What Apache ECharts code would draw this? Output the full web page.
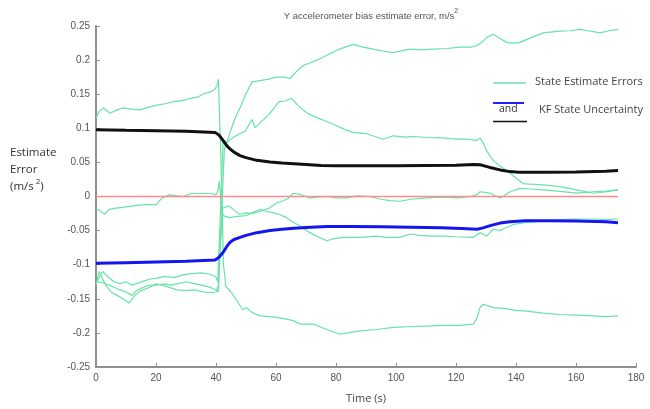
<!DOCTYPE html>
<html><head><meta charset="utf-8">
<script src="https://cdn.jsdelivr.net/npm/echarts@6/dist/echarts.min.js"></script>
<style>html,body{margin:0;padding:0;background:#fff}#c{width:650px;height:409px}</style>
</head><body><div id="c"></div>
<script>
// Time (s) / value pairs
const errA = [[0,0.115],[1,0.124],[2.4,0.13],[4.7,0.122],[7,0.127],[9.2,0.13],[12,0.128],[14.8,0.127],[17.5,0.131],[20.4,0.134],[23,0.136],[26,0.139],[29,0.141],[31.6,0.144],[34,0.146],[36,0.151],[38,0.153],[39.5,0.157],[40.3,0.162],[40.8,0.172],[41.6,0.06],[42.5,-0.10],[43.3,-0.132],[45,-0.14],[46.7,-0.151],[48.9,-0.166],[50.2,-0.163],[52,-0.170],[54.7,-0.175],[58,-0.176],[61.3,-0.178],[65.8,-0.182],[68,-0.187],[72.4,-0.187],[76.9,-0.195],[81.3,-0.202],[84,-0.200],[88,-0.197],[93.5,-0.195],[99.1,-0.192],[104,-0.191],[110.2,-0.190],[116,-0.189],[121.3,-0.189],[125.8,-0.187],[127,-0.178],[128,-0.163],[129.1,-0.158],[132.4,-0.163],[136,-0.164],[140,-0.167],[143.6,-0.168],[149,-0.171],[154.7,-0.173],[160,-0.174],[165.8,-0.175],[170,-0.176],[174,-0.175]];
const errB = [[0,-0.127],[1.5,-0.115],[2.2,-0.110],[4,-0.118],[6,-0.125],[8,-0.128],[10,-0.125],[12,-0.13],[14,-0.127],[16,-0.124],[18,-0.121],[20,-0.120],[23,-0.117],[26,-0.119],[29,-0.115],[32,-0.113],[35,-0.112],[38,-0.114],[40,-0.118],[40.6,-0.125],[41.5,-0.02],[42.4,0.082],[43.6,0.079],[45,0.098],[46.4,0.115],[48,0.13],[49.8,0.149],[52,0.168],[54.7,0.170],[57.6,0.172],[60,0.175],[63,0.175],[64.7,0.173],[66.5,0.182],[69.1,0.192],[72,0.197],[74.7,0.202],[77,0.207],[80.2,0.214],[83,0.219],[85.8,0.223],[89,0.219],[92.4,0.216],[96,0.213],[99.1,0.211],[102,0.214],[104.7,0.216],[108,0.215],[112.4,0.216],[117,0.217],[121.3,0.219],[125,0.219],[126.9,0.221],[128.6,0.226],[130.5,0.234],[132.4,0.238],[134.5,0.232],[136.9,0.226],[139,0.225],[141.3,0.226],[145,0.233],[149.1,0.240],[154.7,0.2425],[158,0.243],[161.3,0.245],[164,0.243],[168,0.240],[171,0.243],[174,0.245]];
const errC = [[0,-0.125],[2,-0.126],[3,-0.128],[5,-0.131],[6,-0.133],[8,-0.137],[10,-0.14],[12,-0.145],[13.5,-0.138],[15,-0.135],[17,-0.131],[20,-0.130],[23,-0.128],[25,-0.130],[28,-0.127],[30,-0.125],[33,-0.128],[35,-0.130],[38,-0.133],[40,-0.137],[40.8,-0.14],[41.8,-0.03],[42.8,0.07],[43.6,0.079],[45.5,0.086],[47.4,0.091],[49.8,0.096],[52,0.113],[53,0.101],[54.7,0.108],[57.6,0.12],[59.1,0.128],[61,0.139],[63,0.140],[65.2,0.144],[67,0.135],[69,0.127],[71.3,0.12],[74,0.115],[76.9,0.11],[80,0.104],[83,0.098],[85.8,0.094],[88,0.093],[90.2,0.092],[93,0.088],[95.8,0.084],[99.1,0.089],[103,0.087],[106,0.088],[110.2,0.0865],[115,0.086],[118,0.085],[121.3,0.084],[124,0.084],[126.9,0.082],[128,0.086],[129,0.079],[130.2,0.067],[132.4,0.053],[134.5,0.045],[136.9,0.038],[139.5,0.029],[142.4,0.019],[145,0.018],[149.1,0.017],[154.7,0.0144],[160.2,0.0097],[165.8,0.0048],[170.2,0.007],[174,0.0097]];
const errD = [[0,-0.13],[1,-0.11],[3,-0.128],[5,-0.14],[7,-0.145],[9,-0.150],[11,-0.156],[13,-0.145],[15,-0.138],[18,-0.133],[20,-0.128],[22,-0.13],[25,-0.134],[27,-0.137],[30,-0.138],[33,-0.137],[36,-0.14],[38,-0.141],[40,-0.140],[40.8,-0.13],[41.6,-0.06],[42.2,-0.017],[44.4,-0.014],[46,-0.02],[47.8,-0.026],[50,-0.024],[52,-0.025],[54.7,-0.0216],[57.8,-0.017],[60.2,-0.0096],[62,-0.007],[64,-0.003],[65.8,0.0048],[68,0.003],[71.3,-0.0024],[74,-0.001],[76.9,0],[80,-0.002],[83.6,-0.002],[87,0.001],[91.3,0],[95,-0.004],[98,-0.006],[101.3,-0.007],[105,-0.004],[110.2,-0.002],[115,-0.001],[121.3,-0.002],[125,0],[127,0.003],[128,0.007],[131.3,0.005],[133,0.001],[134.7,-0.002],[136,0.001],[138,0.007],[141.3,0.012],[145,0.011],[149.1,0.0097],[154,0.008],[160.2,0.005],[165.8,0.007],[170,0.008],[174,0.0097]];
const errE = [[0,-0.017],[1,-0.02],[2.8,-0.026],[4.4,-0.019],[6.7,-0.017],[9,-0.016],[11,-0.0144],[14,-0.013],[16.7,-0.012],[20,-0.012],[22,-0.0024],[24.4,0.0024],[27,0.001],[29,0],[32,0.0048],[34,0.004],[36.7,0.0048],[39,0.004],[40,0.0024],[40.6,0.008],[41.1,0.022],[41.7,-0.01],[42.4,-0.028],[44.4,-0.031],[47,-0.029],[50,-0.028],[52,-0.024],[54.7,-0.019],[57,-0.022],[59.1,-0.024],[61,-0.026],[63.5,-0.031],[65.8,-0.038],[68,-0.043],[71.3,-0.053],[74,-0.059],[76.9,-0.065],[79,-0.062],[82.4,-0.060],[88,-0.060],[93.5,-0.058],[97,-0.060],[101.3,-0.060],[104.7,-0.055],[108,-0.057],[112,-0.058],[115.8,-0.058],[120,-0.059],[125.8,-0.060],[128,-0.053],[130.2,-0.058],[132.4,-0.048],[134.7,-0.050],[137,-0.045],[139.1,-0.041],[143.6,-0.038],[149,-0.036],[154.7,-0.034],[160,-0.033],[165.8,-0.033],[170,-0.034],[174,-0.033]];
const sigUp = [[0,0.098],[10,0.097],[20,0.0965],[30,0.0955],[39.7,0.094],[41,0.090],[42.4,0.082],[43.5,0.075],[44.7,0.0696],[46,0.065],[48,0.060],[50,0.057],[53.6,0.053],[58,0.0505],[62,0.049],[66,0.048],[70,0.047],[75,0.0455],[80,0.045],[90,0.045],[100,0.045],[110,0.0455],[120,0.046],[126,0.047],[128,0.0465],[131,0.043],[134.7,0.039],[138,0.0365],[141,0.0356],[150,0.0355],[160,0.036],[170,0.037],[174,0.038]];
const sigDn = [[0,-0.098],[10,-0.097],[20,-0.096],[30,-0.095],[39.7,-0.093],[41,-0.089],[42.4,-0.0817],[43.5,-0.074],[44.7,-0.067],[46,-0.063],[48,-0.060],[50,-0.057],[53.6,-0.053],[58,-0.050],[62,-0.048],[66,-0.0465],[70,-0.0455],[77,-0.044],[85,-0.044],[95,-0.0445],[105,-0.045],[115,-0.046],[122,-0.047],[127,-0.048],[129,-0.046],[132,-0.042],[134.7,-0.039],[138,-0.037],[143,-0.0356],[150,-0.0355],[160,-0.036],[170,-0.037],[174,-0.0385]];
const zeroLine = [[0,0],[174,0]];

const GREEN = '#66e3a8';
const chart = echarts.init(document.getElementById('c'), null, {renderer:'canvas'});
const greenSeries = [errA, errB, errC, errD, errE].map((d,i) => ({
  type:'line', name:'err'+i, data:d, showSymbol:false, symbol:'none', silent:true,
  lineStyle:{color:GREEN, width:1.2}, z:2
}));
const tickFont = {fontFamily:'Liberation Sans, Arial, sans-serif', fontSize:10, color:'#555'};
chart.setOption({
  animation:false,
  backgroundColor:'#fff',
  title:{
    text:'{a|Y accelerometer bias estimate error, m/s}{s|2}',
    left:366, top:3, textAlign:'center',
    textStyle:{fontWeight:'normal', rich:{
      a:{fontFamily:'Liberation Sans, Arial, sans-serif', fontSize:9.5, fontWeight:'normal', color:'#555', verticalAlign:'bottom'},
      s:{fontFamily:'Liberation Sans, Arial, sans-serif', fontSize:7, fontWeight:'normal', color:'#555', verticalAlign:'top', padding:[0,0,6,0]}
    }}
  },
  grid:{left:96, right:14, top:26, bottom:36, containLabel:false},
  xAxis:{
    type:'value', min:0, max:180, interval:20,
    name:'Time (s)', nameLocation:'middle', nameGap:26,
    nameTextStyle:{fontFamily:'Open Sans, sans-serif', fontSize:11, color:'#444'},
    axisLine:{show:true, onZero:false, lineStyle:{color:'#8f8f8f', width:2}},
    axisTick:{show:true, inside:true, length:4, lineStyle:{color:'#8f8f8f', width:1}},
    axisLabel:Object.assign({margin:6}, tickFont),
    splitLine:{show:false}
  },
  yAxis:{
    type:'value', min:-0.25, max:0.25, interval:0.05,
    axisLine:{show:true, onZero:false, lineStyle:{color:'#8f8f8f', width:2}},
    axisTick:{show:true, inside:true, length:4, lineStyle:{color:'#8f8f8f', width:1}},
    axisLabel:Object.assign({margin:6}, tickFont),
    splitLine:{show:false}
  },
  graphic:[
    {type:'text', left:10, top:144, style:{
      text:'Estimate\nError\n({a|m/s}{s|2})',
      font:'11.5px "Open Sans", sans-serif', fill:'#333', lineHeight:17,
      rich:{a:{font:'11.5px "Open Sans", sans-serif', fill:'#333'}, s:{font:'8px "Open Sans", sans-serif', fill:'#333', verticalAlign:'top', padding:[0,0,0,2]}}
    }},
    {type:'line', shape:{x1:493, y1:83, x2:526, y2:83}, style:{stroke:GREEN, lineWidth:1.5}},
    {type:'text', left:535, top:76, style:{text:'State Estimate Errors', font:'11px "Open Sans", sans-serif', fill:'#444'}},
    {type:'line', shape:{x1:493, y1:103, x2:524, y2:103}, style:{stroke:'#2020ff', lineWidth:2}},
    {type:'text', left:499, top:104, style:{text:'and', font:'10.5px "Open Sans", sans-serif', fill:'#333'}},
    {type:'line', shape:{x1:493, y1:121.5, x2:527, y2:121.5}, style:{stroke:'#111', lineWidth:1.5}},
    {type:'text', left:539, top:104, style:{text:'KF State Uncertainty', font:'11px "Open Sans", sans-serif', fill:'#444'}}
  ],
  series: greenSeries.concat([
    {type:'line', data:zeroLine, showSymbol:false, symbol:'none', silent:true, lineStyle:{color:'#ff8a8a', width:1.5}, z:3},
    {type:'line', data:sigUp, showSymbol:false, symbol:'none', silent:true, lineStyle:{color:'#111', width:3}, z:4},
    {type:'line', data:sigDn, showSymbol:false, symbol:'none', silent:true, lineStyle:{color:'#1515f0', width:3}, z:4}
  ])
});
</script></body></html>
